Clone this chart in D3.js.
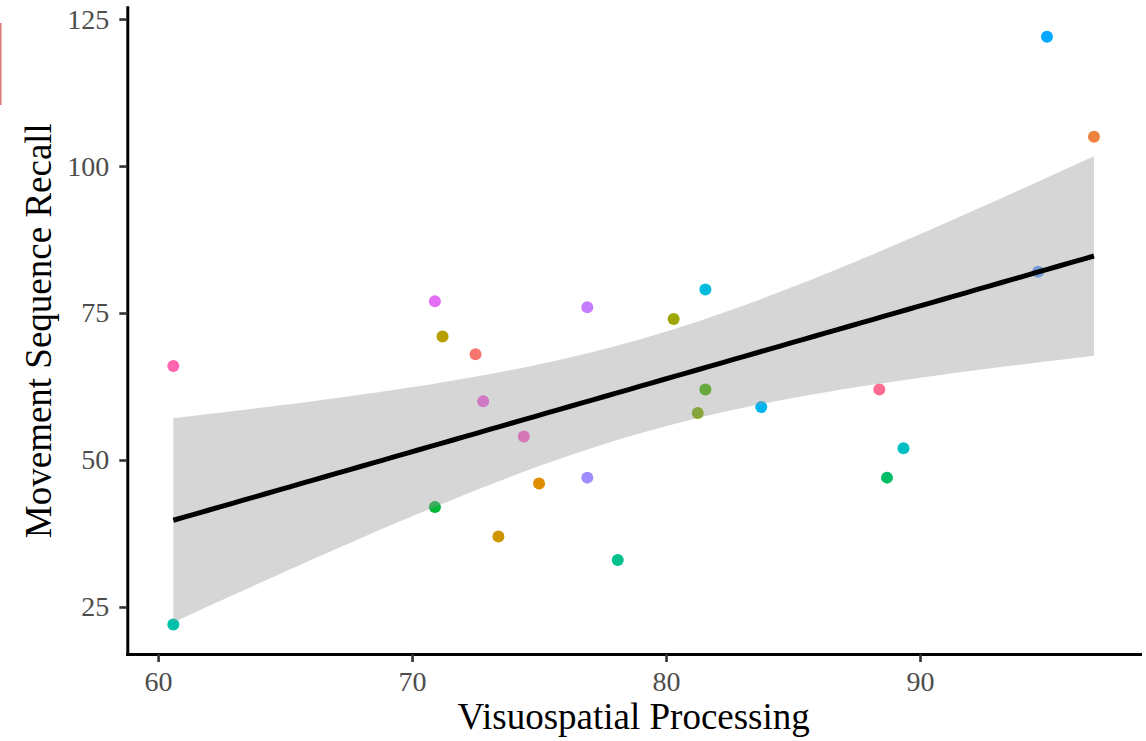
<!DOCTYPE html>
<html>
<head>
<meta charset="utf-8">
<script src="https://cdn.jsdelivr.net/npm/d3@7/dist/d3.min.js"></script>
<style>
    html, body { margin: 0; padding: 0; background: #fff; }
    svg { display: block; font-family: "Liberation Serif", "Times New Roman", serif; }
</style>
</head>
<body>
<svg id="chart"></svg>
<script>
// hue level of each participant (ggplot default palette order)
var levels = [0, 1, 2, 3, 4, 5, 6, 7, 8, 9, 10, 11, 12, 13, 14, 15, 16, 17, 18, 19, 20, 21, 22, 23];
// Visuospatial Processing
var visuospatial = [72.5, 96.85, 75.0, 73.4, 71.2, 80.3, 81.25, 81.55, 70.9, 88.7, 78.1, 60.6,
    89.35, 81.55, 83.75, 95.0, 94.65, 76.9, 76.9, 70.9, 72.8, 74.4, 60.6, 88.4];
// Movement Sequence Recall
var recall = [68, 105, 46, 37, 71, 74, 58, 62, 42, 47, 33, 22,
    52, 79, 59, 122, 82, 47, 76, 77, 60, 54, 66, 62];
var xTicks = [60, 70, 80, 90];
var yTicks = [25, 50, 75, 100, 125];

var cfg = {
    "width": 1146,
    "height": 741,
    "panel": {"left": 127.3, "right": 1140, "top": 7.3, "bottom": 654},
    "pointRadius": 6,
    "tickFont": 28,
    "titleFont": 37,
    "tCrit": 2.0739 // qt(0.975, 22)
};

/**
 * ggplot 的 hcl 色相 (polar Luv, c=100, l=65)
 */
var hueColor = function (h) {
    var L = 65, C = 100, hr = h * Math.PI / 180;
    var U = C * Math.cos(hr), V = C * Math.sin(hr);
    var Xn = 95.047, Yn = 100, Zn = 108.883;
    var un = 4 * Xn / (Xn + 15 * Yn + 3 * Zn), vn = 9 * Yn / (Xn + 15 * Yn + 3 * Zn);
    var Y = Math.pow((L + 16) / 116, 3);
    var u = U / (13 * L) + un, v = V / (13 * L) + vn;
    var X = Y * 9 * u / (4 * v);
    var Z = Y * (12 - 3 * u - 20 * v) / (4 * v);
    var rgb = [
        3.240479 * X - 1.537150 * Y - 0.498535 * Z,
        -0.969256 * X + 1.875992 * Y + 0.041556 * Z,
        0.055648 * X - 0.204043 * Y + 1.057311 * Z
    ].map(function (c) {
        c = c <= 0.0031308 ? 12.92 * c : 1.055 * Math.pow(c, 1 / 2.4) - 0.055;
        return Math.round(Math.max(0, Math.min(1, c)) * 255);
    });
    return d3.rgb(rgb[0], rgb[1], rgb[2]).formatHex();
};

var nLevels = levels.length;
var palette = d3.range(nLevels).map(function (i) {
    return hueColor(15 + 360 * i / nLevels);
});

var data = levels.map(function (d, i) {
    return {"level": d, "x": visuospatial[i], "y": recall[i]};
});

// ggplot 的 5% 扩展
var expand = function (ext) {
    var pad = (ext[1] - ext[0]) * 0.05;
    return [ext[0] - pad, ext[1] + pad];
};
var xExt = d3.extent(visuospatial), yExt = d3.extent(recall);

var xScale = d3.scaleLinear().domain(expand(xExt)).range([cfg.panel.left, cfg.panel.right]);
var yScale = d3.scaleLinear().domain(expand(yExt)).range([cfg.panel.bottom, cfg.panel.top]);
var color = d3.scaleOrdinal().domain(d3.range(nLevels)).range(palette);

var svg = d3.select("#chart").attr("width", cfg.width).attr("height", cfg.height);

// 左侧残留的红线
svg.append("rect")
    .attr("x", 0).attr("y", 23)
    .attr("width", 1.5).attr("height", 82)
    .attr("fill", "#d97b7b");

/**
 * 散点
 */
var drawPoints = function () {
    svg.append("g").selectAll("circle")
        .data(data)
        .enter()
        .append("circle")
        .attr("cx", function (d) { return xScale(d.x); })
        .attr("cy", function (d) { return yScale(d.y); })
        .attr("r", cfg.pointRadius)
        .attr("fill", function (d) { return color(d.level); });
};

/**
 * 线性回归 + 95% 置信带
 */
var drawSmooth = function () {
    var n = data.length;
    var mx = d3.mean(visuospatial), my = d3.mean(recall);
    var sxx = d3.sum(visuospatial, function (x) { return (x - mx) * (x - mx); });
    var sxy = d3.sum(data, function (d) { return (d.x - mx) * (d.y - my); });
    var slope = sxy / sxx, intercept = my - slope * mx;
    var rss = d3.sum(data, function (d) {
        var r = d.y - (intercept + slope * d.x);
        return r * r;
    });
    var s = Math.sqrt(rss / (n - 2));

    var grid = d3.range(80).map(function (i) {
        var x = xExt[0] + i * (xExt[1] - xExt[0]) / 79;
        var fit = intercept + slope * x;
        var se = s * Math.sqrt(1 / n + (x - mx) * (x - mx) / sxx);
        return {"x": x, "fit": fit, "lo": fit - cfg.tCrit * se, "hi": fit + cfg.tCrit * se};
    });

    var area = d3.area()
        .x(function (d) { return xScale(d.x); })
        .y0(function (d) { return yScale(d.lo); })
        .y1(function (d) { return yScale(d.hi); });
    svg.append("path")
        .attr("d", area(grid))
        .attr("fill", "#999999")
        .attr("fill-opacity", 0.4);

    var line = d3.line()
        .x(function (d) { return xScale(d.x); })
        .y(function (d) { return yScale(d.fit); });
    svg.append("path")
        .attr("d", line(grid))
        .attr("fill", "none")
        .attr("stroke", "#000")
        .attr("stroke-width", 5);
};

/**
 * 坐标轴
 */
var drawAxis = function () {
    var styleAxis = function (g) {
        g.select(".domain")
            .attr("stroke", "#000")
            .attr("stroke-width", 3)
            .attr("stroke-linecap", "square");
        g.selectAll(".tick line").attr("stroke", "#333333").attr("stroke-width", 2.6);
        g.selectAll(".tick text")
            .attr("fill", "#4d4d4d")
            .style("font-size", cfg.tickFont + "px")
            .style("font-family", "Liberation Serif, serif");
    };

    svg.append("g")
        .attr("transform", "translate(0," + cfg.panel.bottom + ")")
        .call(d3.axisBottom(xScale).tickValues(xTicks).tickSize(8).tickSizeOuter(0).tickPadding(9))
        .call(styleAxis);

    svg.append("g")
        .attr("transform", "translate(" + cfg.panel.left + ",0)")
        .call(d3.axisLeft(yScale).tickValues(yTicks).tickSize(8).tickSizeOuter(0).tickPadding(10))
        .call(styleAxis);

    svg.append("text")
        .attr("x", (cfg.panel.left + cfg.panel.right) / 2)
        .attr("y", 729)
        .attr("text-anchor", "middle")
        .style("font-size", cfg.titleFont + "px")
        .attr("fill", "#000")
        .text("Visuospatial Processing");

    svg.append("text")
        .attr("transform", "translate(51," + (cfg.panel.top + cfg.panel.bottom) / 2 + ") rotate(-90)")
        .attr("text-anchor", "middle")
        .style("font-size", cfg.titleFont + "px")
        .attr("fill", "#000")
        .text("Movement Sequence Recall");
};

drawPoints();
drawSmooth();
drawAxis();
</script>
</body>
</html>
